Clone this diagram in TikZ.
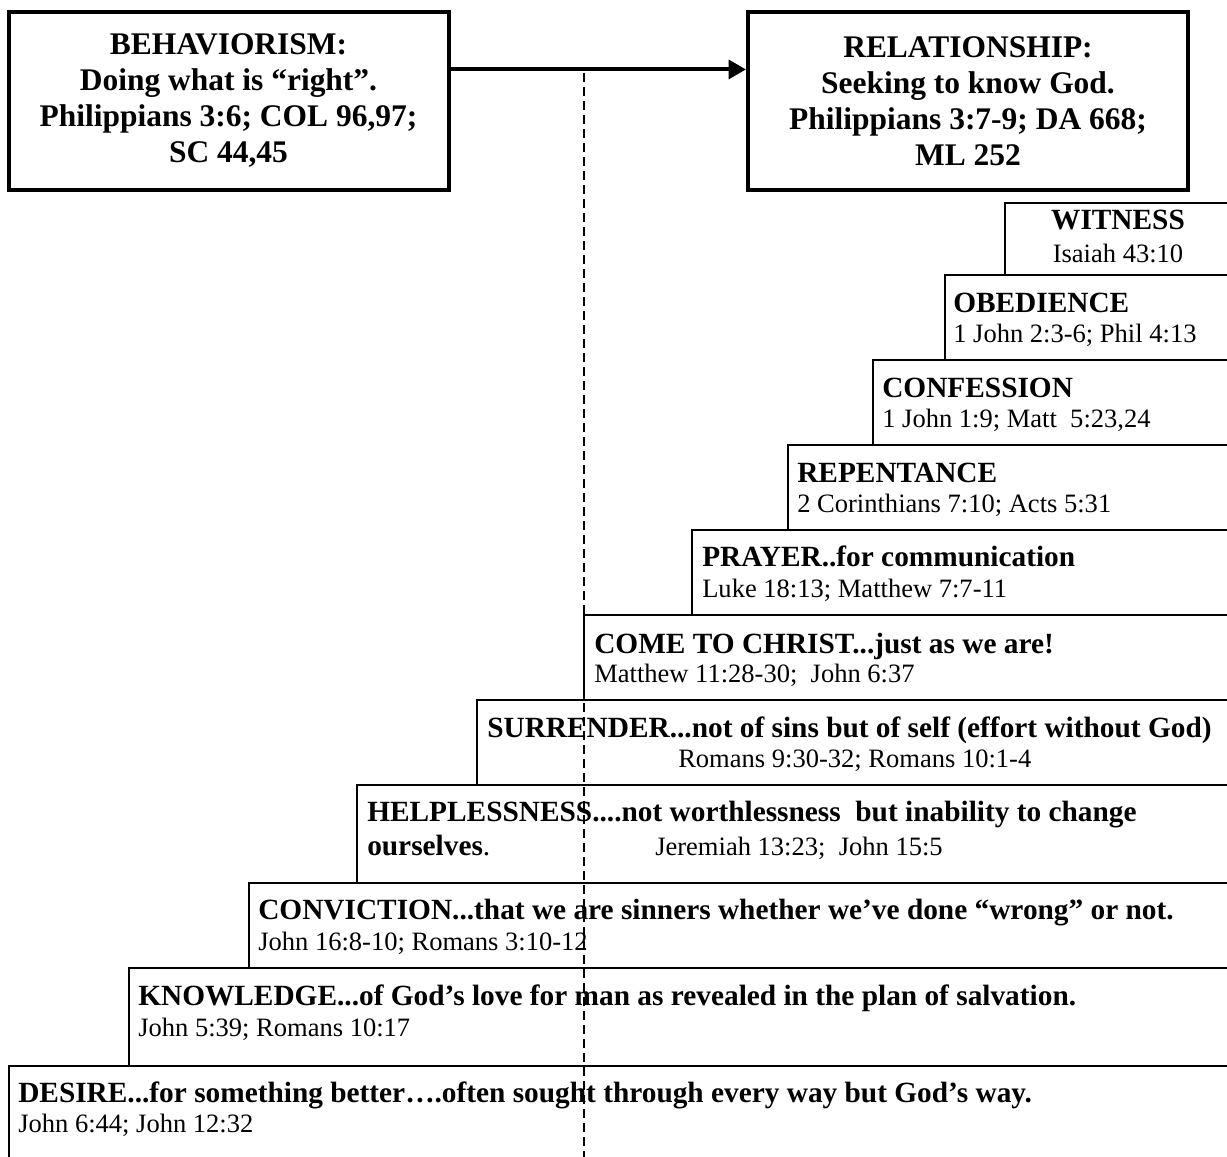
\documentclass[tikz,border=0pt]{standalone}
\usepackage{fontspec}
\setmainfont{Liberation Serif}
\usetikzlibrary{arrows.meta,calc}
\tikzset{
  topbox/.style={draw, line width=3pt, minimum width=330pt, minimum height=133pt, inner sep=0pt, align=center, font=\fontsize{23.6}{27}\selectfont\bfseries},
  stepbox/.style={draw, line width=1.7pt},
  head/.style={anchor=base west, inner sep=0pt, font=\fontsize{22}{26}\selectfont\bfseries},
  ref/.style={anchor=base west, inner sep=0pt, font=\fontsize{19.9}{24}\selectfont},
  headc/.style={anchor=base, inner sep=0pt, font=\fontsize{22}{26}\selectfont\bfseries},
  refc/.style={anchor=base, inner sep=0pt, font=\fontsize{19.9}{24}\selectfont},
  guide/.style={line width=1.4pt, dash pattern=on 6.5pt off 4pt},
  flow/.style={line width=3pt, -{Triangle[length=13pt,width=14pt]}}
}
\begin{document}
\begin{tikzpicture}[x=0.75pt,y=-0.75pt]
\useasboundingbox (0,0) rectangle (1227,1156);
\fill[white] (0,0) rectangle (1227,1156);
\begin{scope}
\clip (0,0) rectangle (1227,1156);
% steps
\draw[stepbox] (1005,203) rectangle (1260,275);
\draw[stepbox] (945,275) rectangle (1260,360);
\draw[stepbox] (873,360) rectangle (1260,445);
\draw[stepbox] (788,445) rectangle (1260,530);
\draw[stepbox] (692,530) rectangle (1260,615);
\draw[stepbox] (584,615) rectangle (1260,700);
\draw[stepbox] (477,700) rectangle (1260,785);
\draw[stepbox] (357,785) rectangle (1260,883);
\draw[stepbox] (249,883) rectangle (1260,968);
\draw[stepbox] (129,968) rectangle (1260,1066);
\draw[stepbox] (9,1066) rectangle (1260,1200);

\node[headc] (witH) at (1118,229) {WITNESS};
\node[refc] (witR) at (1118,262) {Isaiah 43:10};

\node[head] (obeH) at (953,312) {OBEDIENCE};
\node[ref] (obeR) at (953,342) {1 John 2:3-6; Phil 4:13};

\node[head] (conH) at (882,397) {CONFESSION};
\node[ref] (conR) at (882,427) {1 John 1:9; Matt~ 5:23,24};

\node[head] (repH) at (797,482) {REPENTANCE};
\node[ref] (repR) at (797,512) {2 Corinthians 7:10; Acts 5:31};

\node[head] (praH) at (702,566) {PRAYER..for communication};
\node[ref] (praR) at (702,597) {Luke 18:13; Matthew 7:7-11};

\node[head] (comH) at (594,653) {COME TO CHRIST...just as we are!};
\node[ref] (comR) at (594,682) {Matthew 11:28-30;~ John 6:37};

\node[head] (surH) at (487,737) {SURRENDER...not of sins but of self (effort without God)};
\node[ref] (surR) at (678,767) {Romans 9:30-32; Romans 10:1-4};

\node[head] (helH) at (367,821) {HELPLESSNESS....not worthlessness~ but inability to change};
\node[head] (helH2) at (367,855) {ourselves\textmd{.}};
\node[ref] (helR) at (655,855) {Jeremiah 13:23;~ John 15:5};

\node[head] (cvH) at (258,919) {CONVICTION...that we are sinners whether we’ve done “wrong” or not.};
\node[ref] (cvR) at (258,950) {John 16:8-10; Romans 3:10-12};

\node[head] (knH) at (138,1005) {KNOWLEDGE...of God’s love for man as revealed in the plan of salvation.};
\node[ref] (knR) at (138,1036) {John 5:39; Romans 10:17};

\node[head] (deH) at (18,1102) {DESIRE...for something better….often sought through every way but God’s way.};
\node[ref] (deR) at (18,1132) {John 6:44; John 12:32};

% top boxes
\node[topbox] (beh) at (228.5,101) {BEHAVIORISM:\\Doing what is “right”.\\Philippians 3:6; COL 96,97;\\SC 44,45};
\node[topbox] (rel) at (968,101) {RELATIONSHIP:\\Seeking to know God.\\Philippians 3:7-9; DA 668;\\ML 252};
\draw[flow] ($(beh.north east)!0.326!(beh.south east)$) -- ($(rel.north west)!0.326!(rel.south west)$);

% guide line
\coordinate (gtop) at (584,73);
\coordinate (gbot) at (584,1160);
\draw[guide] (gtop) -- (gbot);
\end{scope}
\end{tikzpicture}
\end{document}
